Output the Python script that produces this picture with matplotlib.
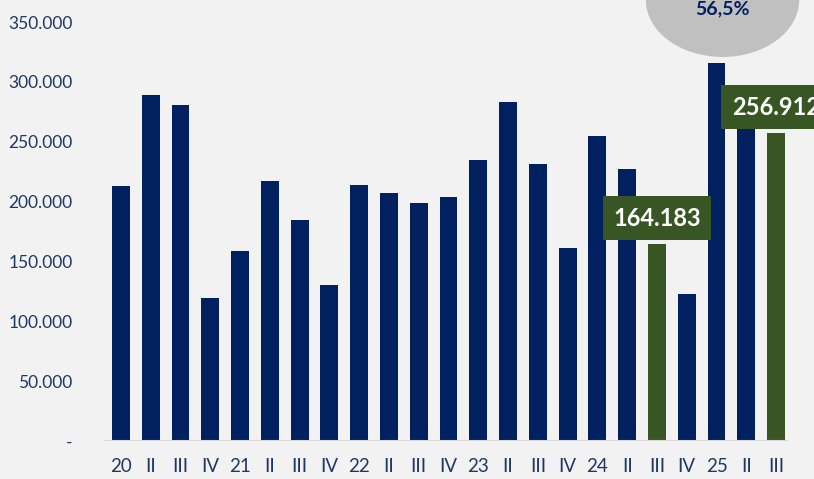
import matplotlib
matplotlib.use('Agg')
from matplotlib import pyplot as plt
from matplotlib.patches import Ellipse

plt.rcParams['font.family'] = ['Lato', 'DejaVu Sans']

# quarters 2020 I .. 2025 III
labels = ['20', 'II', 'III', 'IV', '21', 'II', 'III', 'IV', '22', 'II', 'III', 'IV',
          '23', 'II', 'III', 'IV', '24', 'II', 'III', 'IV', '25', 'II', 'III']
values = [213000, 289000, 281000, 119500, 159000, 217000, 185000, 130000,
          214000, 207000, 199000, 204000, 235000, 283000, 231000, 161000,
          255000, 227000, 164183, 123000, 316000, 272000, 256912]
highlight = [18, 22]
yticks = [0, 50000, 100000, 150000, 200000, 250000, 300000, 350000]
ytick_labels = ['-', '50.000', '100.000', '150.000', '200.000', '250.000', '300.000', '350.000']
growth_text = '56,5%'

navy = '#002060'
green = '#375623'
bg = '#f2f2f2'
txt = '#1f3864'

W, H = 814, 479
fig = plt.figure(figsize=(W / 100, H / 100), dpi=100, facecolor=bg)
ax = fig.add_axes([103 / W, 38 / H, 691 / W, 441 / H], facecolor=bg)

x = list(range(len(values)))
colors = [green if i in highlight else navy for i in x]
ax.bar(x, values, width=0.6, color=colors, zorder=2)

ax.set_xlim(-0.6, 22.6)
ax.set_ylim(0, 368400)
ax.axhline(0, xmin=0.005, xmax=0.99, color='#d9d9d9', lw=1.5, zorder=3)

ax.set_yticks(yticks)
ax.set_yticklabels(ytick_labels, fontsize=12.5, color=txt)
ax.set_xticks(x)
ax.set_xticklabels(labels, fontsize=13.5, color=txt)
ax.tick_params(axis='y', length=0, pad=22)
ax.tick_params(axis='x', length=0, pad=12)
for s in ax.spines.values():
    s.set_visible(False)

# value labels for the highlighted bars
box_pos = {18: (18, 186000), 22: (22, 279000)}
for i in highlight:
    bx, by = box_pos[i]
    ax.text(bx, by, f'{values[i]:,}'.replace(',', '.'), ha='center', va='center',
            fontsize=17, fontweight='bold', color='white', zorder=5,
            bbox=dict(boxstyle='square,pad=0.45', fc=green, ec='none'),
            clip_on=False)

# growth bubble at top right
ell = Ellipse((20.2, 368400), 5.1, 94000, color='#c0c0c0', zorder=1, clip_on=False)
ax.add_patch(ell)
ax.text(20.2, 361000, growth_text, ha='center', va='center', fontsize=14,
        fontweight='bold', color=navy, zorder=2)

fig.savefig('out.png', dpi=100, facecolor=bg)
